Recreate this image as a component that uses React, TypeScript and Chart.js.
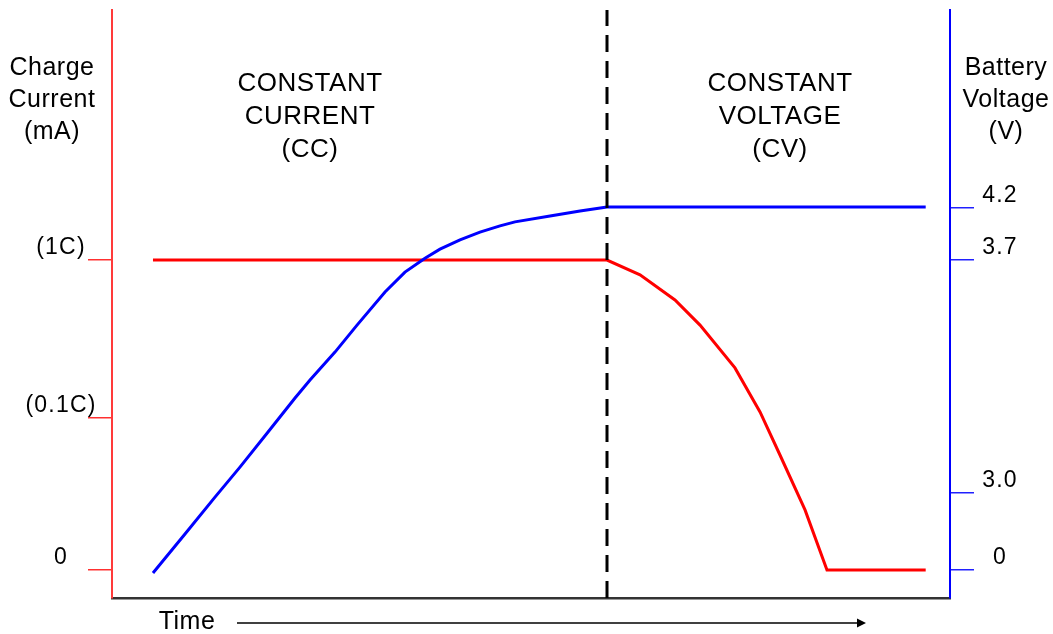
import React, { useEffect, useRef } from "react";
import { Chart, registerables } from "chart.js";

Chart.register(...registerables);

// Schematic chart: time in % of the plotted span, vertical level where 1C current = 100
const voltageTime = [4.89, 8.71, 12.29, 15.27, 18.62, 21.84, 23.63, 26.61, 29.24, 32.58, 34.96, 37.35, 39.14, 41.53, 43.91, 46.3, 48.09, 52.27, 55.85, 59.07, 97.1];
const voltageLevel = [-0.97, 11.6, 23.5, 33.2, 44.5, 55.5, 61.3, 70.3, 79.0, 89.7, 96.1, 100.6, 103.5, 106.5, 109.0, 111.0, 112.3, 114.2, 115.8, 117.1, 117.1];

const currentTime = [4.89, 59.07, 63.01, 67.18, 70.17, 74.34, 77.33, 79.71, 82.7, 85.32, 97.1];
const currentLevel = [100, 100, 95.2, 87.1, 79.0, 65.2, 51.0, 37.1, 19.4, 0, 0];

const phaseChangeTime = 59.07;

const currentTickValues = [0, 49.1, 100];
const currentTickLabels = ["0", "(0.1C)", "(1C)"];
const voltageTickValues = [0, 24.8, 100, 117];
const voltageTickLabels = ["0", "3.0", "3.7", "4.2"];

const leftTitle = ["Charge", "Current", "(mA)"];
const rightTitle = ["Battery", "Voltage", "(V)"];
const ccLabel = ["CONSTANT", "CURRENT", "(CC)"];
const cvLabel = ["CONSTANT", "VOLTAGE", "(CV)"];
const xTitle = "Time";

const Y_MIN = -9.03;
const Y_MAX = 180.65;

const FONT = '"Liberation Sans", Arial, Helvetica, sans-serif';

const textPlugin = {
  id: "schematicText",
  afterDraw(chart: any) {
    const ctx = chart.ctx as CanvasRenderingContext2D;
    const y = chart.scales.y;
    const y2 = chart.scales.y2;
    ctx.save();
    ctx.fillStyle = "#000";
    ctx.textAlign = "center";
    ctx.textBaseline = "middle";

    ctx.font = `23px ${FONT}`;
    (ctx as any).letterSpacing = "1.2px";
    currentTickValues.forEach((v, i) => {
      ctx.fillText(currentTickLabels[i], 61, y.getPixelForValue(v) - 12);
    });
    voltageTickValues.forEach((v, i) => {
      ctx.fillText(voltageTickLabels[i], 1000, y2.getPixelForValue(v) - 12);
    });

    ctx.font = `25px ${FONT}`;
    (ctx as any).letterSpacing = "0.5px";
    leftTitle.forEach((t, i) => ctx.fillText(t, 52, 68 + i * 32));
    rightTitle.forEach((t, i) => ctx.fillText(t, 1006, 68 + i * 32));
    ctx.fillText(xTitle, 187, 622);

    ctx.font = `26px ${FONT}`;
    (ctx as any).letterSpacing = "0.5px";
    ccLabel.forEach((t, i) => ctx.fillText(t, 310, 84 + i * 33));
    cvLabel.forEach((t, i) => ctx.fillText(t, 780, 84 + i * 33));

    // time arrow
    (ctx as any).letterSpacing = "0px";
    ctx.strokeStyle = "#000";
    ctx.lineWidth = 1.5;
    ctx.beginPath();
    ctx.moveTo(237, 623);
    ctx.lineTo(858, 623);
    ctx.stroke();
    ctx.beginPath();
    ctx.moveTo(866, 623);
    ctx.lineTo(857, 618.5);
    ctx.lineTo(857, 627.5);
    ctx.closePath();
    ctx.fill();
    ctx.restore();
  },
};

export default function App() {
  const ref = useRef<HTMLCanvasElement | null>(null);

  useEffect(() => {
    if (!ref.current) return;
    const chart = new Chart(ref.current, {
      type: "line",
      data: {
        datasets: [
          {
            label: "CC/CV boundary",
            data: [
              { x: phaseChangeTime, y: Y_MIN },
              { x: phaseChangeTime, y: Y_MAX },
            ],
            borderColor: "#000",
            borderWidth: 3,
            borderDash: [17, 9],
            pointRadius: 0,
            yAxisID: "y",
            order: 0,
          },
          {
            label: "Battery Voltage",
            data: voltageTime.map((t, i) => ({ x: t, y: voltageLevel[i] })),
            borderColor: "#0000ff",
            borderWidth: 3,
            pointRadius: 0,
            tension: 0,
            yAxisID: "y2",
            order: 1,
          },
          {
            label: "Charge Current",
            data: currentTime.map((t, i) => ({ x: t, y: currentLevel[i] })),
            borderColor: "#ff0000",
            borderWidth: 3,
            pointRadius: 0,
            tension: 0,
            yAxisID: "y",
            order: 2,
          },
        ],
      },
      options: {
        animation: false,
        responsive: false,
        layout: { padding: { top: 10, left: 0, right: 0, bottom: 0 } },
        plugins: {
          legend: { display: false },
          tooltip: { enabled: false },
        },
        scales: {
          x: {
            type: "linear",
            min: 0,
            max: 100,
            position: "bottom",
            grid: { display: false, drawTicks: false },
            ticks: { display: false },
            border: { display: true, color: "#333", width: 2.5 },
            afterFit: (s: any) => {
              s.height = 36;
            },
          },
          y: {
            type: "linear",
            position: "left",
            min: Y_MIN,
            max: Y_MAX,
            afterBuildTicks: (s: any) => {
              s.ticks = currentTickValues.map((v) => ({ value: v }));
            },
            grid: {
              display: true,
              drawOnChartArea: false,
              drawTicks: true,
              tickLength: 24,
              color: "#ff3030",
              lineWidth: 1.5,
            },
            ticks: { display: false },
            border: { display: true, color: "#ff3a3a", width: 2 },
            afterFit: (s: any) => {
              s.width = 112;
            },
          },
          y2: {
            type: "linear",
            position: "right",
            min: Y_MIN,
            max: Y_MAX,
            afterBuildTicks: (s: any) => {
              s.ticks = voltageTickValues.map((v) => ({ value: v }));
            },
            grid: {
              display: true,
              drawOnChartArea: false,
              drawTicks: true,
              tickLength: 24,
              color: "#2020ff",
              lineWidth: 1.5,
            },
            ticks: { display: false },
            border: { display: true, color: "#0000ff", width: 2 },
            afterFit: (s: any) => {
              s.width = 103;
            },
          },
        },
      },
      plugins: [textPlugin],
    });
    return () => chart.destroy();
  }, []);

  return (
    <div style={{ position: "fixed", left: 0, top: 0, width: 1053, height: 634, background: "#fff" }}>
      <canvas ref={ref} width={1053} height={634} style={{ display: "block" }} />
    </div>
  );
}
